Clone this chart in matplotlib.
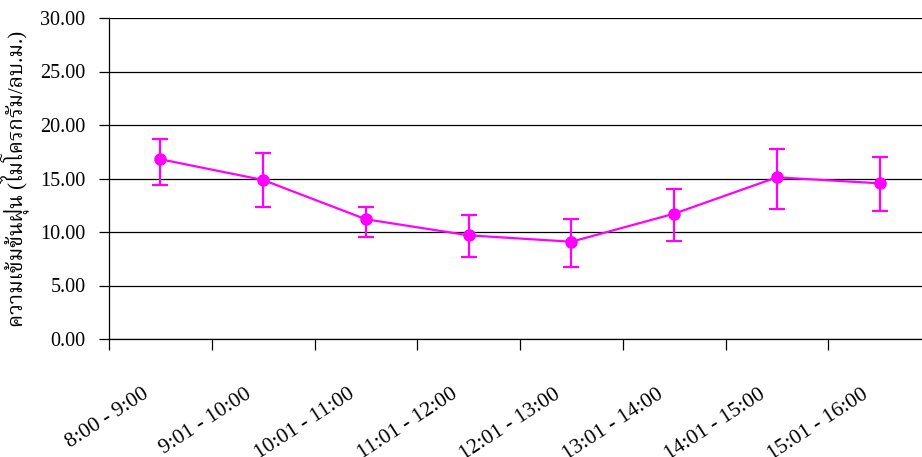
import matplotlib
matplotlib.use('Agg')
import matplotlib.pyplot as plt
import matplotlib.transforms as mtransforms
import numpy as np

# ช่วงเวลา และค่าความเข้มข้นฝุ่น
periods = ['8:00 - 9:00', '9:01 - 10:00', '10:01 - 11:00', '11:01 - 12:00',
           '12:01 - 13:00', '13:01 - 14:00', '14:01 - 15:00', '15:01 - 16:00']
means = [16.8, 14.86, 11.19, 9.69, 9.09, 11.71, 15.11, 14.55]
err_low = [2.4, 2.5, 1.63, 2.0, 2.33, 2.52, 2.93, 2.56]
err_high = [1.9, 2.54, 1.17, 1.93, 2.15, 2.34, 2.67, 2.49]
yticks = [0, 5, 10, 15, 20, 25, 30]

plt.rcParams['font.family'] = ['Liberation Serif', 'Noto Serif Thai', 'DejaVu Sans']

fig = plt.figure(figsize=(9.22, 4.57), dpi=100)
ax = fig.add_axes([109 / 922, 118 / 457, 822 / 922, 321 / 457])

x = np.arange(len(periods))
ax.errorbar(x, means, yerr=[err_low, err_high], color='#FF00FF', lw=1.6,
            marker='o', ms=8, capsize=6, capthick=1.6, elinewidth=1.6, zorder=3)

ax.set_xlim(-0.5, len(periods) - 0.5)
ax.set_ylim(0, 30)
ax.set_yticks(yticks)
ax.set_yticklabels(['%.2f' % v for v in yticks], fontsize=14.5)
ax.yaxis.grid(True, color='black', lw=0.9)
ax.set_axisbelow(True)

# ขีดแกน x อยู่ระหว่างกลุ่ม, ป้ายอยู่ที่กึ่งกลาง
ax.set_xticks(np.arange(len(periods) + 1) - 0.5, minor=True)
ax.set_xticks(x)
ax.set_xticklabels(periods, rotation=33, ha='right', va='top',
                   rotation_mode='anchor', fontsize=15.5)
ax.tick_params(axis='x', which='major', length=0, pad=33)
ax.tick_params(axis='x', which='minor', length=8, width=0.9, direction='out')
ax.tick_params(axis='y', length=7, width=0.9, direction='out', pad=10)

shift = mtransforms.ScaledTranslation(-18 / 100, 0, fig.dpi_scale_trans)
for lab in ax.get_xticklabels():
    lab.set_transform(lab.get_transform() + shift)

for s in ['top', 'right']:
    ax.spines[s].set_visible(False)
ax.spines['left'].set_linewidth(0.9)
ax.spines['bottom'].set_linewidth(0.9)

ax.set_ylabel('ความเข้มข้นฝุ่น (ไมโครกรัม/ลบ.ม.)', fontsize=15, labelpad=8)

fig.savefig('out.png', dpi=100)
